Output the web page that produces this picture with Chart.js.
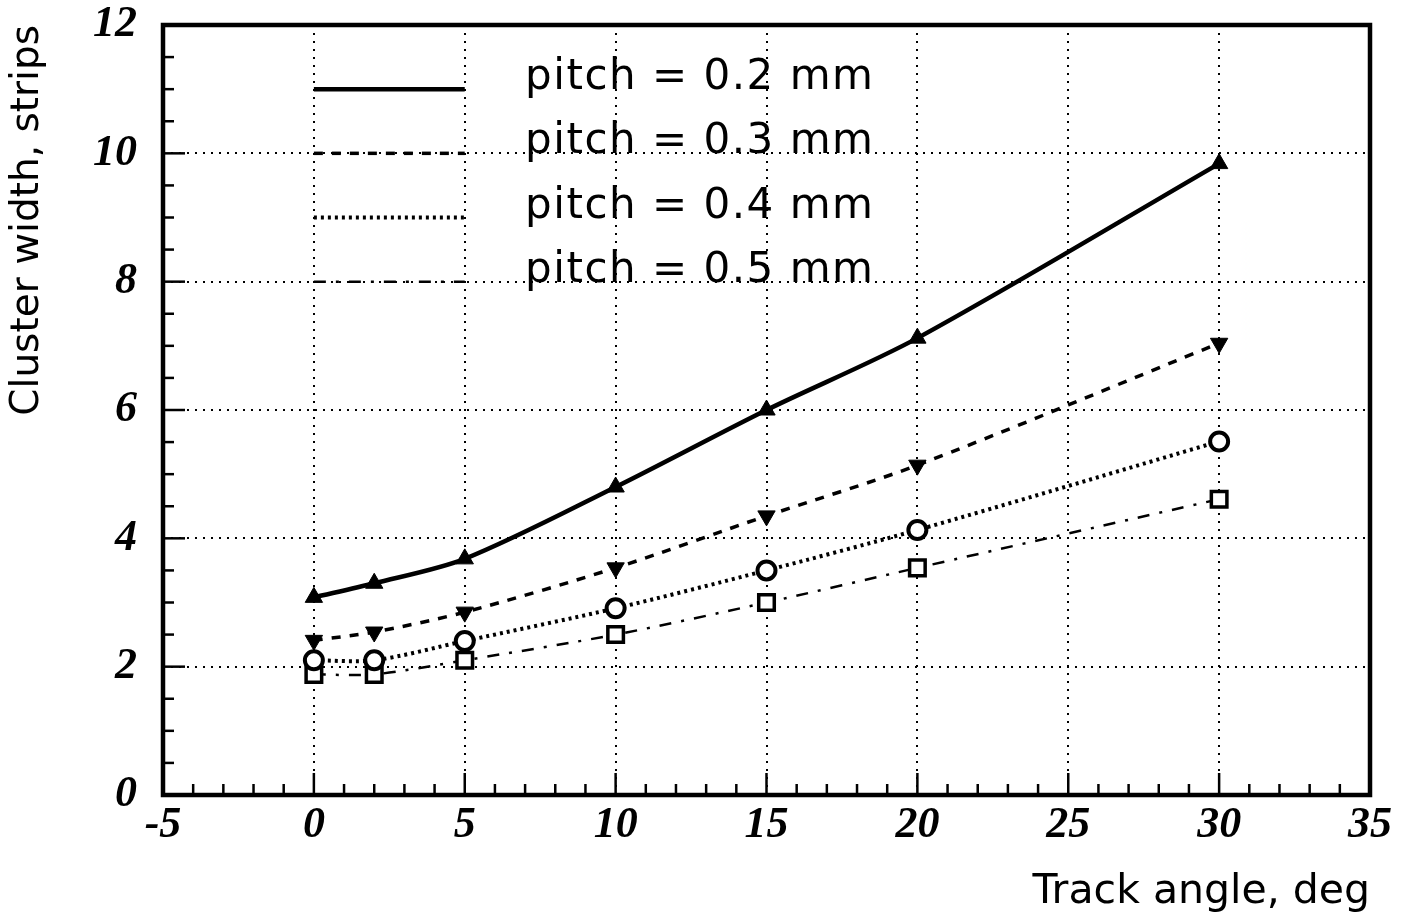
<!DOCTYPE html>
<html>
<head>
<meta charset="utf-8">
<script src="https://cdn.jsdelivr.net/npm/chart.js@4/dist/chart.umd.min.js"></script>
<style>
  html, body { margin: 0; padding: 0; background: #fff; }
  #wrap { width: 1411px; height: 921px; }
</style>
</head>
<body>
<div id="wrap"><canvas id="c"></canvas></div>
<script>
// track angle (deg)
const angles = [0, 2, 5, 10, 15, 20, 30];
// cluster width in strips, one array per pitch
const pitch02 = [3.08, 3.30, 3.68, 4.80, 6.00, 7.12, 9.84];
const pitch03 = [2.41, 2.54, 2.85, 3.54, 4.35, 5.14, 7.04];
const pitch04 = [2.10, 2.10, 2.40, 2.91, 3.50, 4.13, 5.51];
const pitch05 = [1.88, 1.88, 2.10, 2.50, 3.00, 3.54, 4.61];
const seriesNames = ["pitch = 0.2 mm", "pitch = 0.3 mm", "pitch = 0.4 mm", "pitch = 0.5 mm"];

const xMin = -5, xMax = 35, xStep = 5;
const yMin = 0, yMax = 12, yStep = 2;

const tickFont = { family: "'Liberation Serif', 'DejaVu Serif', serif", size: 44, style: "italic", weight: "bold" };
const sansFam = "'DejaVu Sans', sans-serif";

function pts(ys) {
    return angles.map((a, i) => ({ x: a, y: ys[i] }));
}

// frame, inward ticks and in-plot legend
const frameAndLegend = {
    id: "frameAndLegend",
    afterDatasetsDraw(chart) {
        const ctx = chart.ctx;
        const xs = chart.scales.x, ys = chart.scales.y;
        const a = chart.chartArea;
        ctx.save();
        ctx.strokeStyle = "#000";
        ctx.setLineDash([]);
        ctx.lineWidth = 2.5;
        for (let v = xMin + 1; v < xMax; v++) {
            let len = (v % 5 === 0) ? 22 : 11;
            let px = xs.getPixelForValue(v);
            ctx.beginPath();
            ctx.moveTo(px, a.bottom);
            ctx.lineTo(px, a.bottom - len);
            ctx.stroke();
        }
        for (let v = yMin + 0.5; v < yMax; v += 0.5) {
            let len = (v % 2 === 0) ? 22 : 11;
            let py = ys.getPixelForValue(v);
            ctx.beginPath();
            ctx.moveTo(a.left, py);
            ctx.lineTo(a.left + len, py);
            ctx.stroke();
        }
        ctx.lineWidth = 4.5;
        ctx.strokeRect(a.left, a.top, a.right - a.left, a.bottom - a.top);

        // legend
        let legendY = [11, 10, 9, 8];
        ctx.font = "42px " + sansFam;
        ctx.letterSpacing = "1.5px";
        ctx.fillStyle = "#000";
        ctx.textBaseline = "alphabetic";
        ctx.textAlign = "left";
        chart.data.datasets.forEach((ds, i) => {
            let py = ys.getPixelForValue(legendY[i]);
            ctx.lineWidth = ds.borderWidth;
            ctx.setLineDash(ds.borderDash || []);
            ctx.beginPath();
            ctx.moveTo(xs.getPixelForValue(0), py);
            ctx.lineTo(xs.getPixelForValue(5), py);
            ctx.stroke();
            ctx.fillText(seriesNames[i], xs.getPixelForValue(7), py);
        });
        ctx.restore();
    }
};

new Chart(document.getElementById("c"), {
    type: "line",
    data: {
        datasets: [
            {
                label: seriesNames[0], data: pts(pitch02),
                borderColor: "#000", backgroundColor: "#000", borderWidth: 4.5,
                pointStyle: "triangle", pointRadius: 10, pointBorderWidth: 1,
                tension: 0.3
            },
            {
                label: seriesNames[1], data: pts(pitch03),
                borderColor: "#000", backgroundColor: "#000", borderWidth: 3.5, borderDash: [9, 9],
                pointStyle: "triangle", pointRotation: 180, pointRadius: 10, pointBorderWidth: 1,
                tension: 0.3
            },
            {
                label: seriesNames[2], data: pts(pitch04),
                borderColor: "#000", backgroundColor: "#fff", borderWidth: 4, borderDash: [3, 4],
                pointStyle: "circle", pointRadius: 9, pointBorderWidth: 4,
                tension: 0.3
            },
            {
                label: seriesNames[3], data: pts(pitch05),
                borderColor: "#000", backgroundColor: "#fff", borderWidth: 2.5, borderDash: [12, 10, 3, 10],
                pointStyle: "rect", pointRadius: 11, pointBorderWidth: 3.5,
                tension: 0.3
            }
        ]
    },
    options: {
        responsive: true,
        maintainAspectRatio: false,
        animation: false,
        layout: { padding: { top: 0, right: 41, left: 0, bottom: 0 } },
        plugins: { legend: { display: false }, tooltip: { enabled: false } },
        scales: {
            x: {
                type: "linear", min: xMin, max: xMax,
                afterFit: s => { s.height = 126; },
                ticks: { stepSize: xStep, color: "#000", font: tickFont, padding: 4, maxRotation: 0 },
                grid: {
                    drawTicks: false, lineWidth: 2,
                    color: c => (c.tick && (c.tick.value === xMin || c.tick.value === xMax)) ? "rgba(0,0,0,0)" : "#000"
                },
                border: { display: false, dash: [2, 6] },
                title: {
                    display: true, text: "Track angle, deg", align: "end", color: "#000",
                    font: { family: sansFam, size: 41 }, padding: { top: 0, bottom: 4 }
                }
            },
            y: {
                type: "linear", min: yMin, max: yMax,
                afterFit: s => { s.width = 163; s.paddingTop = 25; s.paddingBottom = 0; },
                ticks: { stepSize: yStep, color: "#000", font: tickFont, padding: 26 },
                grid: {
                    drawTicks: false, lineWidth: 2,
                    color: c => (c.tick && (c.tick.value === yMin || c.tick.value === yMax)) ? "rgba(0,0,0,0)" : "#000"
                },
                border: { display: false, dash: [2, 6] },
                title: {
                    display: true, text: "Cluster width, strips", align: "end", color: "#000",
                    font: { family: sansFam, size: 39 }, padding: { top: 4, bottom: 0 }
                }
            }
        }
    },
    plugins: [frameAndLegend]
});
</script>
</body>
</html>
